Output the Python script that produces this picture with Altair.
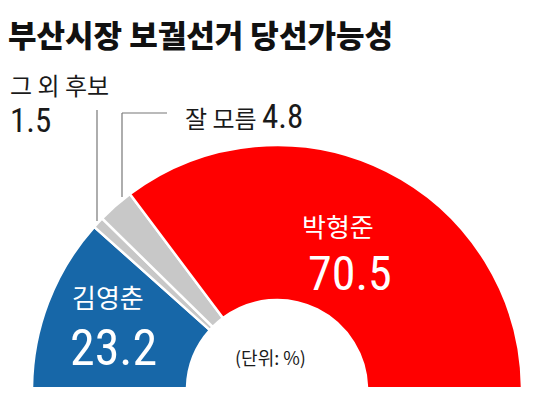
import math
import altair as alt
import pandas as pd

# ---- data ----
names = ["김영춘", "그 외 후보", "잘 모름", "박형준"]
values = [23.2, 1.5, 4.8, 70.5]
colors = ["#1767a8", "#c8c8c8", "#c8c8c8", "#ff0000"]
order = [1, 2, 3, 4]
title_text = "부산시장 보궐선거 당선가능성"
unit_text = "(단위: %)"

df = pd.DataFrame({"name": names, "value": values, "order": order})

KR = "Noto Sans CJK KR"
NUM = "Liberation Sans Narrow, Roboto Condensed, Liberation Sans, Roboto"

one = pd.DataFrame({"a": [0]})

CX, CY = 269, 382

arcs = alt.Chart(df).mark_arc(
    radius=245, radius2=90, stroke="white", strokeWidth=2.5
).encode(
    theta=alt.Theta("value:Q", stack=True,
                    scale=alt.Scale(range=[-math.pi / 2, math.pi / 2])),
    order=alt.Order("order:Q"),
    color=alt.Color("name:N", scale=alt.Scale(domain=names, range=colors), legend=None),
    x=alt.value(CX),
    y=alt.value(CY),
)


def txt(s, x, y, size, color="#1a1a1a", font=KR, weight="normal"):
    return alt.Chart(one).mark_text(
        align="left", baseline="alphabetic", fontSize=size, font=font,
        fontWeight=weight, color=color
    ).encode(x=alt.value(x), y=alt.value(y), text=alt.value(s))


def rule(x1, y1, x2, y2):
    return alt.Chart(one).mark_rule(color="#777777", strokeWidth=1.2).encode(
        x=alt.value(x1), y=alt.value(y1), x2=alt.value(x2), y2=alt.value(y2)
    )


layers = [
    arcs,
    rule(89, 102, 89, 213),
    rule(114, 105, 159, 105),
    rule(114, 105, 114, 189),
    txt(title_text, 0, 39, 31, color="#111111", weight=900),
    txt(names[1], 2, 87, 24),
    txt(f"{values[1]}", 2, 124, 33, font=NUM),
    txt(names[2], 177, 120, 24),
    txt(f"{values[2]}", 254, 120, 33, font=NUM),
    txt(names[3], 294, 229, 26, color="white"),
    txt(f"{values[3]}", 300, 282, 48, color="white", font=NUM),
    txt(names[0], 64, 300, 26, color="white"),
    txt(f"{values[0]}", 62, 357, 50, color="white", font=NUM),
    txt(unit_text, 227, 357, 18),
]

chart = alt.layer(*layers).properties(
    width=534, height=379, padding=0,
    autosize=alt.AutoSizeParams(type="none"),
    background="white",
).configure_view(stroke=None)

chart.save("out.html", embed_options={"renderer": "svg", "actions": False})
